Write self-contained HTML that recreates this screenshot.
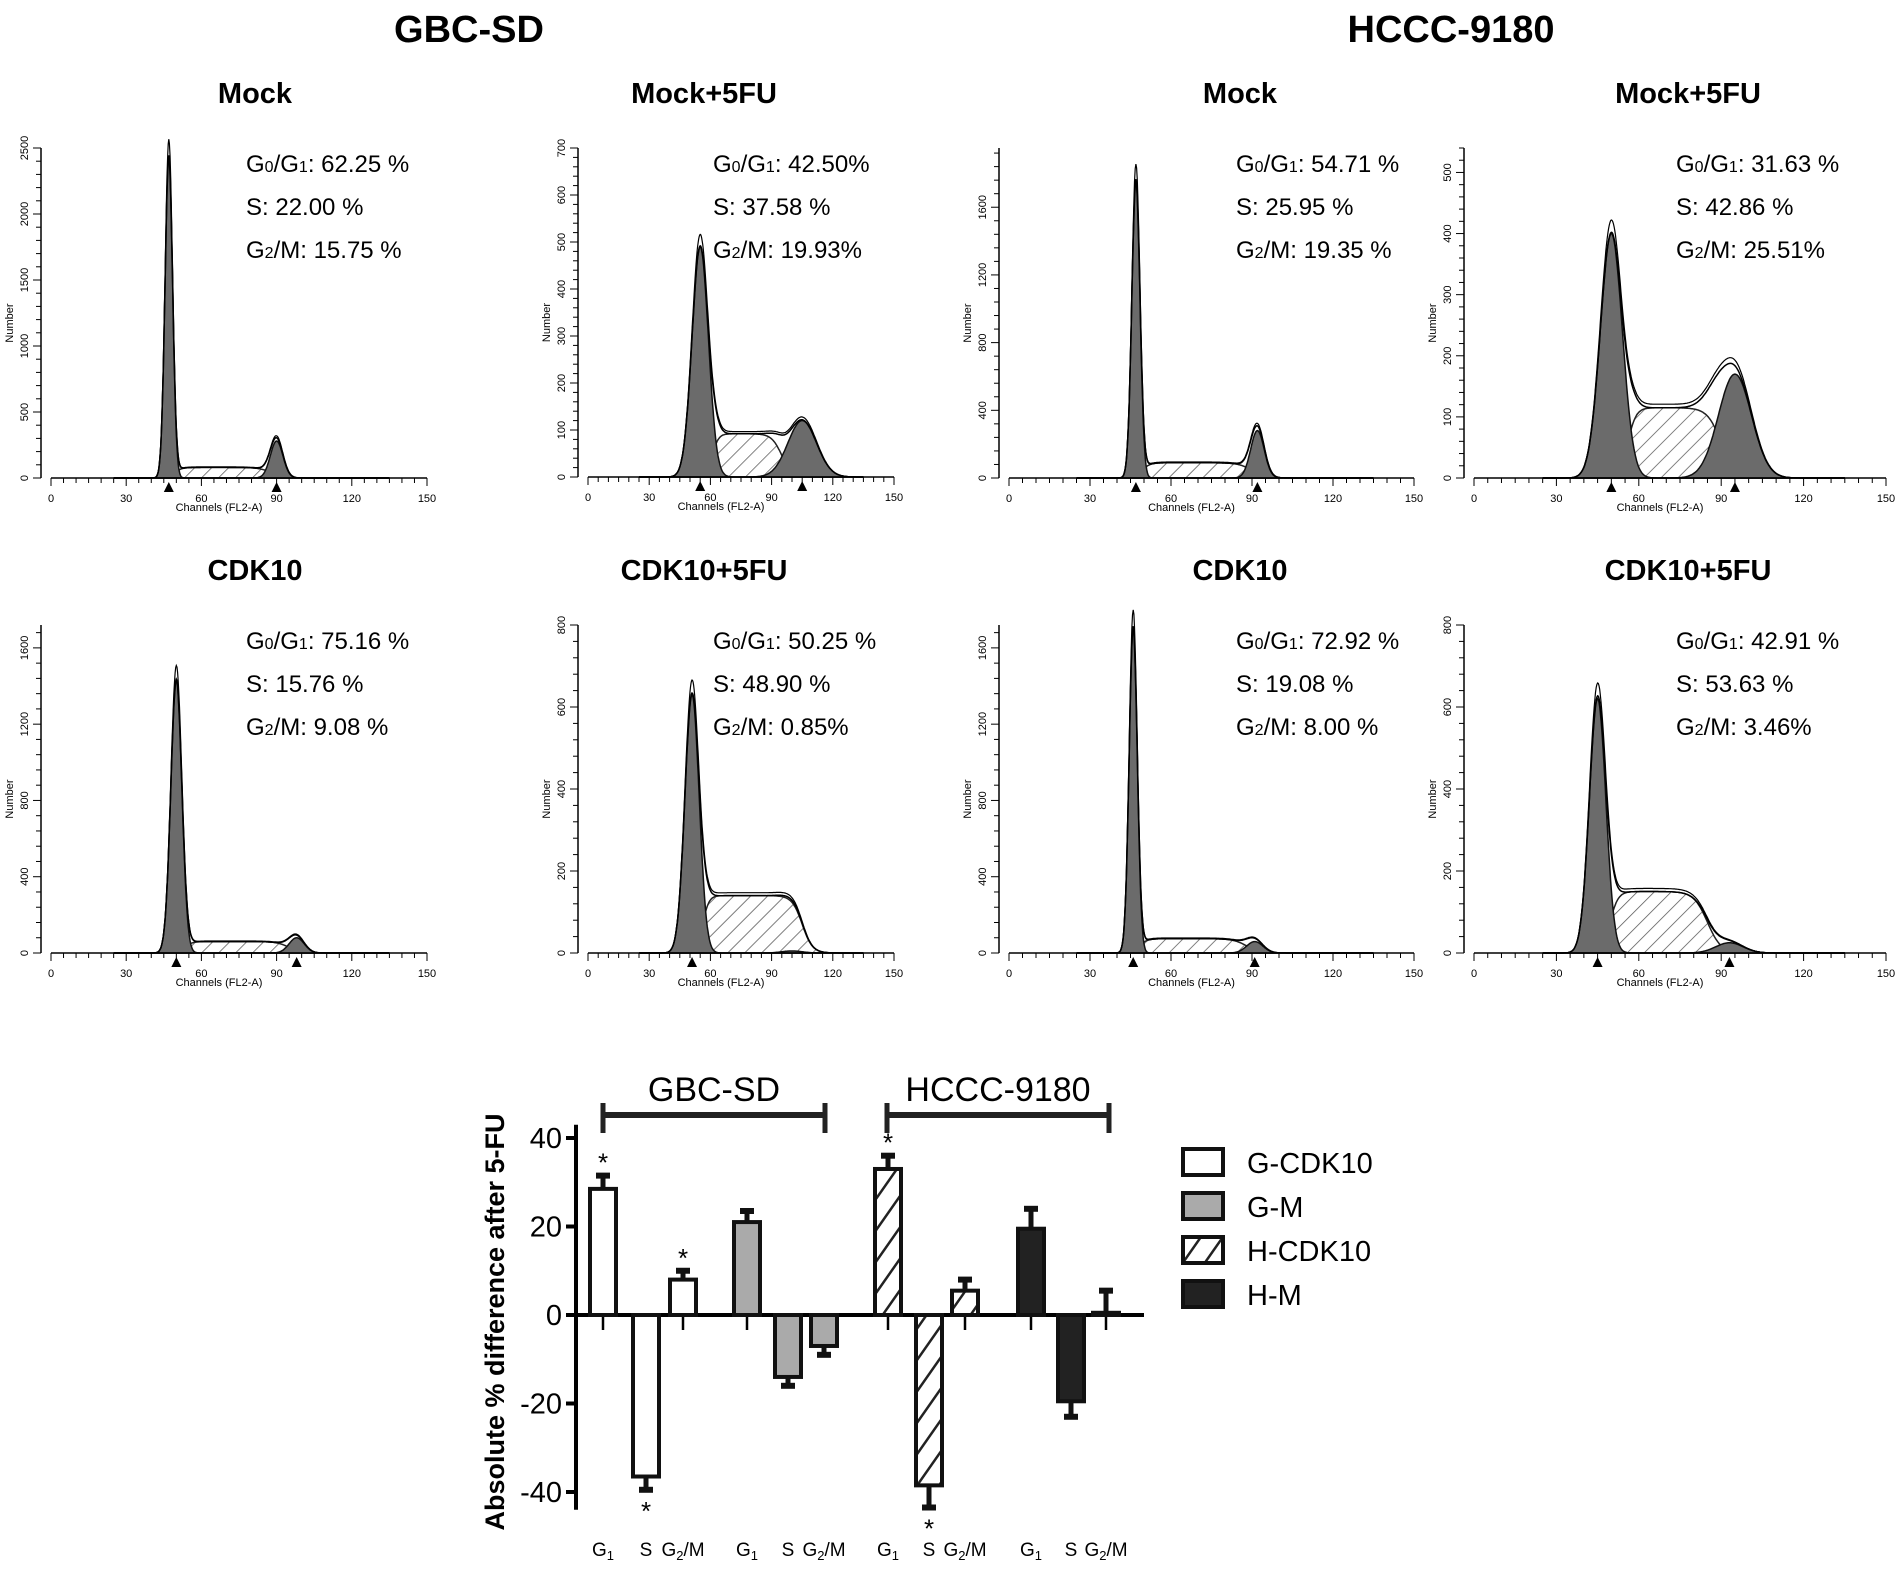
<!DOCTYPE html>
<html><head><meta charset="utf-8"><style>
html,body{margin:0;padding:0;background:#fff}
svg{display:block;font-family:"Liberation Sans",sans-serif}
</style></head><body>
<svg id="fig" width="1902" height="1570" viewBox="0 0 1902 1570" xmlns="http://www.w3.org/2000/svg">
<defs>
<pattern id="hatch" patternUnits="userSpaceOnUse" width="12" height="12" patternTransform="rotate(45)">
<rect width="12" height="12" fill="#fff"/><line x1="0" y1="0" x2="0" y2="12" stroke="#555" stroke-width="1.5"/></pattern>
<pattern id="hatch2" patternUnits="userSpaceOnUse" width="18" height="18" patternTransform="rotate(35)">
<rect width="18" height="18" fill="#fff"/><line x1="0" y1="0" x2="0" y2="18" stroke="#222" stroke-width="5"/></pattern>
</defs>
<text x="469" y="42" font-size="38" font-weight="bold" text-anchor="middle">GBC-SD</text>
<text x="1451" y="42" font-size="38" font-weight="bold" text-anchor="middle">HCCC-9180</text>
<g id="hists"></g>
<g id="bars"></g>
</svg>
<script>
// ---------- histogram data ----------
const panelTitles=["Mock","Mock+5FU","Mock","Mock+5FU","CDK10","CDK10+5FU","CDK10","CDK10+5FU"];
const g1Pct=["62.25 %","42.50%","54.71 %","31.63 %","75.16 %","50.25 %","72.92 %","42.91 %"];
const sPct=["22.00 %","37.58 %","25.95 %","42.86 %","15.76 %","48.90 %","19.08 %","53.63 %"];
const g2Pct=["15.75 %","19.93%","19.35 %","25.51%","9.08 %","0.85%","8.00 %","3.46%"];
const yMax=[2500,700,1950,540,1720,800,1720,800];
const yStep=[500,100,400,100,400,200,400,200];
const g1Mean=[47,55,47,50,50,51,46,45];
const g1Height=[2430,490,1750,400,1430,630,1700,620];
const g1Sigma=[1.5,4,1.5,4,2.2,3.5,1.5,3];
const g2Mean=[90,105,92,95,98,100,91,93];
const g2Height=[280,120,280,170,80,5,60,25];
const g2Sigma=[2.5,7,2.5,6,3,5,3,5];
const sHeight=[80,92,90,115,60,140,75,150];
const sEnd=[88,95,90,90,95,105,88,85];

const panelX=[[51,427],[588,894],[1009,1414],[1474,1886],[51,427],[588,894],[1009,1414],[1474,1886]];
const panelY=[[478,148],[477,148],[478,148],[478,148],[953,625],[953,625],[953,625],[953,625]];
const titleX=[255,704,1240,1688,255,704,1240,1688];
const textX=[246,713,1236,1676,246,713,1236,1676];

const NS="http://www.w3.org/2000/svg";
function mk(tag,attrs,parent){const e=document.createElementNS(NS,tag);for(const k in attrs)e.setAttribute(k,attrs[k]);parent.appendChild(e);return e;}
const H=document.getElementById('hists');
function lg(x){return 1/(1+Math.exp(-x));}
for(let i=0;i<8;i++){
  const [x0,x1]=panelX[i],[yb,yt]=panelY[i];
  const xs=c=>x0+(c/150)*(x1-x0);
  const ys=v=>yb-(v/yMax[i])*(yb-yt);
  const g=mk('g',{},H);
  
  
  const cx=(x0+x1)/2;
  const t=mk('text',{x:titleX[i],y:yt-45,'font-size':29,'font-weight':'bold','text-anchor':'middle'},g);t.textContent=panelTitles[i];
  
  const gauss=(c,m,h,s)=>h*Math.exp(-0.5*((c-m)/s)**2);
  const sph=c=>sHeight[i]*lg((c-g1Mean[i]-1.5*g1Sigma[i])/1.5)*lg((sEnd[i]-c)/2.5);
  const pathOf=f=>{let d='';for(let c=25;c<=135;c+=0.25){d+=(d?'L':'M')+xs(c).toFixed(1)+','+ys(f(c)).toFixed(1);}return d;};
  const sp=mk('path',{d:pathOf(sph)+'Z',fill:'url(#hatch)',stroke:'#222','stroke-width':1.5},g);
  
  const p1=mk('path',{d:pathOf(c=>gauss(c,g1Mean[i],g1Height[i],g1Sigma[i]))+'Z',fill:'#6b6b6b',stroke:'#111','stroke-width':1.5},g);
  
  const p2=mk('path',{d:pathOf(c=>gauss(c,g2Mean[i],g2Height[i],g2Sigma[i]))+'Z',fill:'#6b6b6b',stroke:'#111','stroke-width':1.5},g);
  
  const env=c=>gauss(c,g1Mean[i],g1Height[i],g1Sigma[i])+gauss(c,g2Mean[i],g2Height[i],g2Sigma[i])+sph(c);
  const ev=mk('path',{d:pathOf(env),fill:'none',stroke:'#000','stroke-width':1.5},g);
  
  const ev2=mk('path',{d:pathOf(c=>env(c)*1.05),fill:'none',stroke:'#000','stroke-width':1.2},g);
  
  mk('line',{x1:x0,y1:yb,x2:x1,y2:yb,stroke:'#000','stroke-width':1.5},g);
  mk('line',{x1:x0-10,y1:yb,x2:x0-10,y2:yt,stroke:'#000','stroke-width':1.5},g);
  for(let c=0;c<=150;c+=5){const X=xs(c);mk('line',{x1:X,y1:yb,x2:X,y2:yb+(c%30?5:8),stroke:'#000','stroke-width':1},g);
    if(c%30===0){const tl=mk('text',{x:X,y:yb+24,'font-size':11,'text-anchor':'middle'},g);tl.textContent=c;}}
  const minor=yStep[i]/5;
  for(let v=0;v<=yMax[i];v+=minor){const Y=ys(v);const major=Math.abs(v/yStep[i]-Math.round(v/yStep[i]))<1e-6;
    mk('line',{x1:x0-10,y1:Y,x2:x0-(major?18:15),y2:Y,stroke:'#000','stroke-width':1},g);
    if(major){const tl=mk('text',{x:x0-23,y:Y,'font-size':11,'text-anchor':'middle',transform:`rotate(-90 ${x0-23} ${Y})`},g);tl.textContent=Math.round(v);}}
  const xl=mk('text',{x:cx-20,y:yb+33,'font-size':11,'text-anchor':'middle'},g);xl.textContent='Channels (FL2-A)';
  const yl=mk('text',{x:x0-38,y:(yb+yt)/2+10,'font-size':11,'text-anchor':'middle',transform:`rotate(-90 ${x0-38} ${(yb+yt)/2+10})`},g);yl.textContent='Number';
  [g1Mean[i],g2Mean[i]].forEach((m,k)=>{if(k===1&&(i===5))return;const X=xs(m);
    const tr=mk('path',{d:`M${X-5},${yb+14}L${X+5},${yb+14}L${X},${yb+4}Z`,fill:'#000'},g);
    });
  const tx=textX[i];
  [0,1,2].forEach(k=>{
    const te=mk('text',{x:tx,y:yt+24+k*43,'font-size':24},g);
    if(k===0){te.innerHTML='G<tspan font-size="16">0</tspan>/G<tspan font-size="16">1</tspan>: '+g1Pct[i];}
    else if(k===1){te.textContent='S: '+sPct[i];}
    else{te.innerHTML='G<tspan font-size="16">2</tspan>/M: '+g2Pct[i];}
    });
}

// ---------- bar chart data ----------
const series=["G-CDK10","G-M","H-CDK10","H-M"];
const phases=["G1","S","G2/M"];
const valsGCDK10=[28.5,-36.5,8];
const errGCDK10=[3,3,2];
const valsGM=[21,-14,-7];
const errGM=[2.5,2,2];
const valsHCDK10=[33,-38.5,5.5];
const errHCDK10=[3,5,2.5];
const valsHM=[19.5,-19.5,0.5];
const errHM=[4.5,3.5,5];
const yTicks=[40,20,0,-20,-40];
const sigStars=[[true,true,true],[false,false,false],[true,true,false],[false,false,false]];

const B=document.getElementById('bars');
const y0=1315, pxPer=177/40;
const yb=v=>y0-v*pxPer;
const axisX=576;
const barX=[[603,646,683],[747,788,824],[888,929,965],[1031,1071,1106]];
const fills=['#fff','#aaa','url(#hatch2)','#222'];
const allVals=[valsGCDK10,valsGM,valsHCDK10,valsHM];
const allErr=[errGCDK10,errGM,errHCDK10,errHM];
mk('line',{x1:axisX,y1:yb(43),x2:axisX,y2:yb(-44),stroke:'#000','stroke-width':4},B);
mk('line',{x1:axisX,y1:y0,x2:1144,y2:y0,stroke:'#000','stroke-width':4},B);
yTicks.forEach(v=>{mk('line',{x1:axisX-10,y1:yb(v),x2:axisX,y2:yb(v),stroke:'#000','stroke-width':4},B);
  const t=mk('text',{x:axisX-14,y:yb(v)+10,'font-size':29,'text-anchor':'end'},B);t.textContent=v;
  });
const yt=mk('text',{x:504,y:1322,'font-size':27,'font-weight':'bold','text-anchor':'middle',transform:'rotate(-90 504 1322)'},B);
yt.textContent='Absolute % difference after 5-FU';

const bw=26;
for(let s=0;s<4;s++)for(let p=0;p<3;p++){
  const v=allVals[s][p],e=allErr[s][p],cx=barX[s][p];
  mk('line',{x1:cx,y1:y0,x2:cx,y2:y0+15,stroke:'#000','stroke-width':2.5},B);
  const top=Math.min(yb(v),y0),h=Math.abs(yb(v)-y0);
  const r=mk('rect',{x:cx-bw/2,y:top,width:bw,height:h,fill:fills[s],stroke:'#111','stroke-width':4},B);
  
  
  const ee=v>=0?v+e:v-e;
  mk('line',{x1:cx,y1:yb(v),x2:cx,y2:yb(ee),stroke:'#111','stroke-width':5},B);
  mk('line',{x1:cx-7,y1:yb(ee),x2:cx+7,y2:yb(ee),stroke:'#111','stroke-width':6},B);
  if(sigStars[s][p]){const st=mk('text',{x:cx,y:v>=0?yb(ee)-4:yb(ee)+30,'font-size':26,'text-anchor':'middle'},B);st.textContent='*';
    }
  const xl=mk('text',{x:cx,y:1556,'font-size':19,'text-anchor':'middle'},B);
  if(p===0)xl.innerHTML='G<tspan font-size="13" dy="4">1</tspan>';else if(p===1)xl.textContent='S';else xl.innerHTML='G<tspan font-size="13" dy="4">2</tspan><tspan dy="-4">/M</tspan>';
  
}
[[603,825,'GBC-SD'],[887,1109,'HCCC-9180']].forEach(b=>{
  mk('line',{x1:b[0],y1:1115,x2:b[1],y2:1115,stroke:'#222','stroke-width':6},B);
  mk('line',{x1:b[0],y1:1103,x2:b[0],y2:1133,stroke:'#222','stroke-width':5},B);
  mk('line',{x1:b[1],y1:1103,x2:b[1],y2:1133,stroke:'#222','stroke-width':5},B);
  const t=mk('text',{x:(b[0]+b[1])/2,y:1101,'font-size':34,'text-anchor':'middle'},B);t.textContent=b[2];
  });
series.forEach((n,k)=>{const Y=1162+k*44;
  const r=mk('rect',{x:1183,y:Y-13,width:40,height:26,fill:fills[k],stroke:'#111','stroke-width':4},B);
  
  const t=mk('text',{x:1247,y:Y+11,'font-size':29},B);t.textContent=n;
  });
</script>
</body></html>
